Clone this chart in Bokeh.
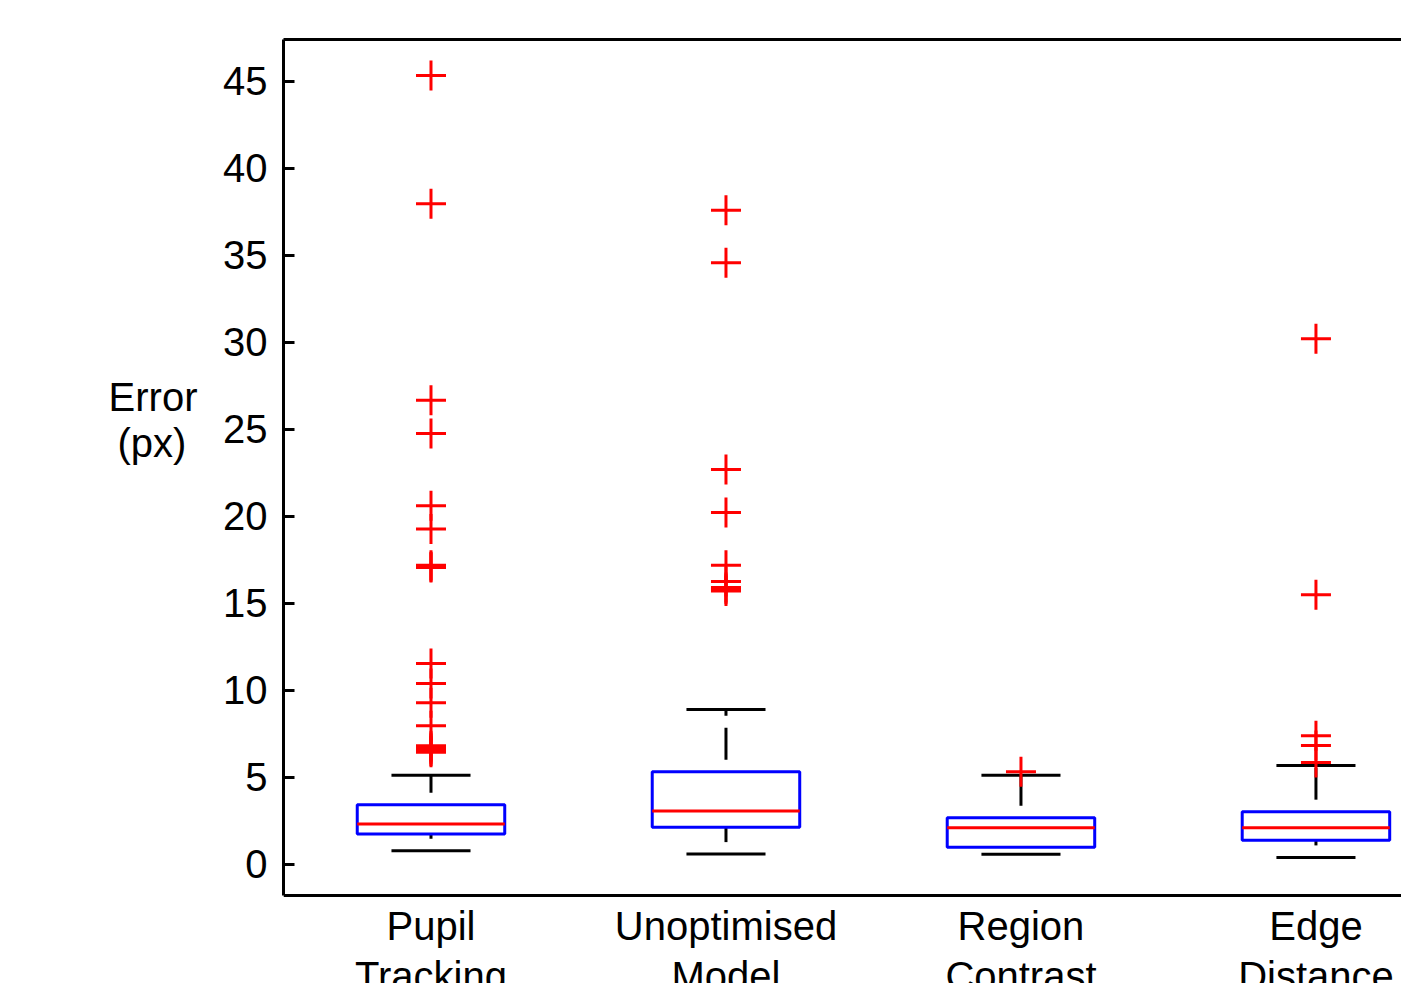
from bokeh.plotting import figure
from bokeh.models import Range1d, FixedTicker, LinearAxis, ColumnDataSource
from bokeh.core.properties import value
from bokeh.embed import file_html
from bokeh.resources import INLINE

# ---- data ----
cat_line1 = ["Pupil", "Unoptimised", "Region", "Edge"]
cat_line2 = ["Tracking", "Model", "Contrast", "Distance"]
positions = [1, 2, 3, 4]
lower_whisker = [0.76, 0.57, 0.56, 0.38]
q1 = [1.72, 2.11, 0.96, 1.36]
median = [2.30, 3.05, 2.09, 2.09]
q3 = [3.41, 5.31, 2.66, 3.01]
upper_whisker = [5.10, 8.89, 5.10, 5.67]
outliers_pupil = [45.34, 37.97, 26.67, 24.75, 20.6, 19.27, 17.18, 17.1, 17.05,
                  11.53, 10.38, 9.27, 7.95, 6.8, 6.7, 6.6, 6.5, 6.42]
outliers_unopt = [37.59, 34.58, 22.68, 20.21, 17.18, 16.25, 15.9, 15.8, 15.7]
outliers_region = [5.31]
outliers_edge = [30.2, 15.48, 7.37, 6.82, 5.84]
yticks = [0, 5, 10, 15, 20, 25, 30, 35, 40, 45]
y_label_lines = ["Error", "(px)"]

FONT = "Liberation Sans"
Y_BOTTOM = -1.81   # where the bottom axis line sits
Y_TOP = 47.41
NBSP = "\u00a0"

p = figure(width=1401, height=983, output_backend="svg", toolbar_location=None,
           x_range=Range1d(0.5, 4.29), y_range=Range1d(-6.87, Y_TOP),
           min_border_left=283, min_border_right=0, min_border_top=39,
           min_border_bottom=0, x_axis_location=None)
p.outline_line_color = None
p.xgrid.visible = False
p.ygrid.visible = False
p.background_fill_color = "white"
p.border_fill_color = "white"

# y axis
p.yaxis.ticker = FixedTicker(ticks=yticks)
p.yaxis.bounds = (Y_BOTTOM, Y_TOP)
p.yaxis.axis_line_width = 3
p.yaxis.major_tick_in = 11
p.yaxis.major_tick_out = 0
p.yaxis.major_tick_line_width = 3
p.yaxis.minor_tick_line_color = None
p.yaxis.major_label_standoff = 16
p.yaxis.major_label_text_font = FONT
p.yaxis.major_label_text_font_size = "40px"
p.yaxis.major_label_text_color = "black"

# second left axis carrying only the (horizontal) axis label;
# padding lines lift the two visible lines to where the reference has them
label_text = "\n".join([y_label_lines[0], y_label_lines[1] + NBSP] + [NBSP] * 4)
lab_axis = LinearAxis(ticker=FixedTicker(ticks=[]), axis_line_color=None,
                      major_tick_in=0, major_tick_out=0, minor_tick_line_color=None,
                      major_label_text_font_size="0px",
                      axis_label=label_text,
                      axis_label_text_font=FONT, axis_label_text_font_size="40px",
                      axis_label_text_font_style="normal",
                      axis_label_text_line_height=1.04,
                      axis_label_text_color="black", axis_label_standoff=23)
try:
    lab_axis.axis_label_orientation = "horizontal"
except Exception:
    pass
p.add_layout(lab_axis, "left")

# top line of the box
top_axis = LinearAxis(ticker=FixedTicker(ticks=[]), axis_line_width=3,
                      major_tick_in=0, major_tick_out=0,
                      minor_tick_line_color=None, major_label_text_font_size="0px")
p.add_layout(top_axis, "above")

# bottom line of the box
p.segment(x0=[0.5], y0=[Y_BOTTOM], x1=[5.0], y1=[Y_BOTTOM], line_color="black", line_width=3)

half_box = 0.25
half_cap = 0.134
src = ColumnDataSource(dict(
    x=positions,
    left=[x - half_box for x in positions],
    right=[x + half_box for x in positions],
    cl=[x - half_cap for x in positions],
    cr=[x + half_cap for x in positions],
    lw=lower_whisker, q1=q1, med=median, q3=q3, uw=upper_whisker,
))

# whiskers (dashed, pattern starting with a gap at the box / lower cap)
p.segment(x0="x", y0="q3", x1="x", y1="uw", source=src, line_color="black",
          line_width=3, line_dash="32 12", line_dash_offset=32)
p.segment(x0="x", y0="lw", x1="x", y1="q1", source=src, line_color="black",
          line_width=3, line_dash="32 12", line_dash_offset=32)
# caps
p.segment(x0="cl", y0="uw", x1="cr", y1="uw", source=src, line_color="black", line_width=3)
p.segment(x0="cl", y0="lw", x1="cr", y1="lw", source=src, line_color="black", line_width=3)
# boxes
p.quad(left="left", right="right", bottom="q1", top="q3", source=src,
       fill_color=None, line_color="#0000ff", line_width=3)
# medians
p.segment(x0="left", y0="med", x1="right", y1="med", source=src,
          line_color="#ff0000", line_width=3)

# outliers
ox, oy = [], []
for pos, arr in zip(positions, [outliers_pupil, outliers_unopt, outliers_region, outliers_edge]):
    ox += [pos] * len(arr)
    oy += arr
p.scatter(x=ox, y=oy, marker="cross", size=30, line_color="#ff0000", line_width=3)

# category labels (two lines)
p.text(x=positions, y=[-3.55] * 4, text=cat_line1, text_align="center",
       text_baseline="alphabetic", text_font=value(FONT),
       text_font_size="40px", text_color="black")
p.text(x=positions, y=[-6.42] * 4, text=cat_line2, text_align="center",
       text_baseline="alphabetic", text_font=value(FONT),
       text_font_size="40px", text_color="black")

open("out.html", "w").write(file_html(p, INLINE))
